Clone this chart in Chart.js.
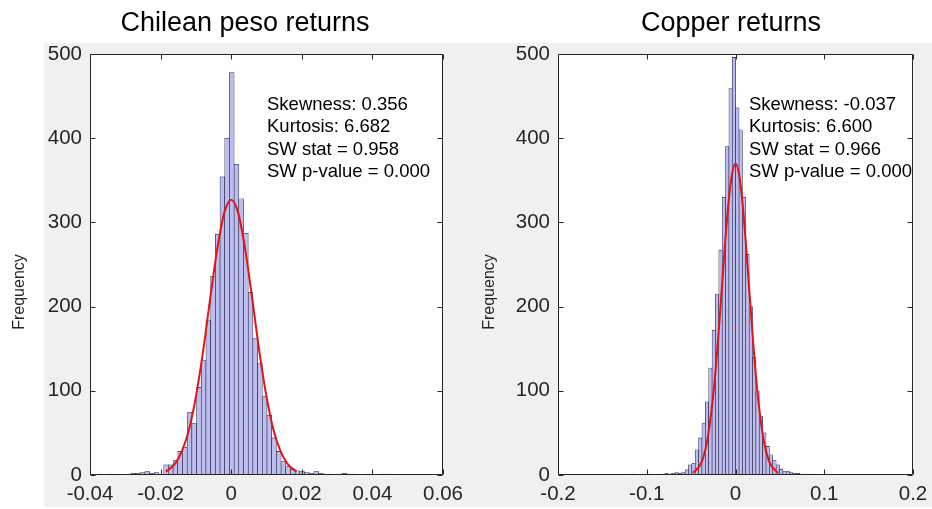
<!DOCTYPE html>
<html>
<head>
<meta charset="utf-8">
<script src="https://cdn.jsdelivr.net/npm/chart.js@4.4.0/dist/chart.umd.min.js"></script>
<style>
  body { margin: 0; background: #fff; }
  #wrap { position: relative; width: 932px; height: 509px; overflow: hidden; }
  #panel-bg { position: absolute; left: 44px; top: 43px; width: 888px; height: 464px; background: #f0f0f0; }
  canvas { position: absolute; top: 0; }
  #peso-chart { left: 0; }
  #copper-chart { left: 466px; }
</style>
</head>
<body>
<div id="wrap">
  <div id="panel-bg"></div>
  <canvas id="peso-chart" width="466" height="509"></canvas>
  <canvas id="copper-chart" width="466" height="509"></canvas>
</div>
<script>
// Chilean peso returns: histogram bins (first edge, width) and counts
const pesoBinStart = -0.03907;
const pesoBinWidth = 0.00133;
const pesoCounts = [0, 1, 0, 1, 0, 0, 0, 1, 2, 2, 3, 4, 2, 3, 1, 12, 12, 17, 28, 33,
  74, 61, 104, 136, 184, 236, 286, 354, 400,
  478, 369, 328, 287, 217, 162, 133, 93, 71, 44, 28, 16, 10, 7, 5, 4, 3, 2, 4, 2, 1,
  1, 0, 1, 2, 1, 1, 0, 0, 1, 0, 0, 1, 0, 1];
// fitted normal curve
const pesoFitX = [-0.0185, -0.016, -0.014, -0.012, -0.010, -0.008, -0.006, -0.004, -0.002, 0,
  0.002, 0.004, 0.006, 0.008, 0.010, 0.012, 0.014, 0.016, 0.0185];
const pesoFitY = [4, 13, 28, 53, 93, 146, 208, 267, 311, 327, 311, 267, 208, 146, 93, 53, 28, 13, 4];
const pesoTickValues = [-0.04, -0.02, 0, 0.02, 0.04, 0.06];
const pesoTickLabels = ['-0.04', '-0.02', '0', '0.02', '0.04', '0.06'];
const pesoStats = ['Skewness: 0.356', 'Kurtosis: 6.682', 'SW stat = 0.958', 'SW p-value = 0.000'];

// Copper returns
const copperBinStart = -0.1176;
const copperBinWidth = 0.0038;
const copperCounts = [1, 0, 0, 1, 0, 1, 0, 0, 1, 1, 2, 1, 2, 3, 2, 3, 6, 12, 14, 30,
  44, 61, 87, 127, 172, 215, 267, 330, 390, 459, 496,
  436, 410, 330, 262, 200, 140, 100, 70, 50, 34, 24, 17, 12, 7, 4, 4, 3, 2, 2, 1,
  1, 0, 1, 1, 0, 0, 1, 0, 1, 0];
const copperFitX = [-0.048, -0.04, -0.036, -0.032, -0.028, -0.024, -0.02, -0.016, -0.012, -0.008, -0.004, 0,
  0.004, 0.008, 0.012, 0.016, 0.02, 0.024, 0.028, 0.032, 0.036, 0.04, 0.048];
const copperFitY = [2.5, 11.6, 22, 40, 68, 106, 156, 213, 271, 322, 357, 370,
  357, 322, 271, 213, 156, 106, 68, 40, 22, 11.6, 2.5];
const copperTickValues = [-0.2, -0.1, 0, 0.1, 0.2];
const copperTickLabels = ['-0.2', '-0.1', '0', '0.1', '0.2'];
const copperStats = ['Skewness: -0.037', 'Kurtosis: 6.600', 'SW stat = 0.966', 'SW p-value = 0.000'];

const freqTickValues = [0, 100, 200, 300, 400, 500];
const freqTickLabels = ['0', '100', '200', '300', '400', '500'];

const FONT = '"Liberation Sans", Arial, sans-serif';
Chart.defaults.font.family = FONT;

// white axes, dark box, MATLAB-style inward ticks, titles and text
const matlabAxes = {
  id: 'matlabAxes',
  beforeDraw(chart) {
    const a = chart.chartArea, ctx = chart.ctx;
    ctx.save();
    ctx.fillStyle = '#fff';
    ctx.fillRect(a.left, a.top, a.right - a.left, a.bottom - a.top);
    ctx.restore();
  },
  afterDraw(chart, args, opts) {
    const { ctx, chartArea: a, scales } = chart;
    ctx.save();
    ctx.strokeStyle = '#262626';
    ctx.lineWidth = 1;
    const l = Math.round(a.left) + 0.5, r = Math.round(a.right) - 0.5;
    const t = Math.round(a.top) + 0.5, b = Math.round(a.bottom) - 0.5;
    ctx.beginPath();
    ctx.rect(l, t, r - l, b - t);
    const len = 5;
    scales.x.ticks.forEach(tk => {
      const px = Math.round(scales.x.getPixelForValue(tk.value)) + 0.5;
      ctx.moveTo(px, t); ctx.lineTo(px, t + len);
      ctx.moveTo(px, b); ctx.lineTo(px, b - len);
    });
    scales.y.ticks.forEach(tk => {
      const py = Math.round(scales.y.getPixelForValue(tk.value)) + 0.5;
      ctx.moveTo(l, py); ctx.lineTo(l + len, py);
      ctx.moveTo(r, py); ctx.lineTo(r - len, py);
    });
    ctx.stroke();

    ctx.fillStyle = '#000';
    ctx.font = '27px ' + FONT;
    ctx.textAlign = 'center';
    ctx.textBaseline = 'alphabetic';
    ctx.fillText(opts.title, opts.titleX, 31);

    ctx.font = '18.5px ' + FONT;
    ctx.textAlign = 'left';
    opts.stats.forEach((s, i) => ctx.fillText(s, opts.statsX, 110 + i * 22.4));

    ctx.fillStyle = '#262626';
    ctx.font = '16px ' + FONT;
    ctx.translate(opts.freqX, 292);
    ctx.rotate(-Math.PI / 2);
    ctx.textAlign = 'center';
    ctx.textBaseline = 'middle';
    ctx.fillText('Frequency', 0, 0);
    ctx.restore();
  }
};

function makeHist(id, p) {
  const bars = p.counts.map((c, i) => ({ x: p.binStart + (i + 0.5) * p.binWidth, y: c }));
  const fit = p.fitX.map((x, i) => ({ x: x, y: p.fitY[i] }));
  new Chart(document.getElementById(id), {
    type: 'bar',
    data: {
      datasets: [{
        type: 'line',
        data: fit,
        borderColor: 'rgb(232,18,18)',
        borderWidth: 2,
        pointRadius: 0,
        fill: false,
        cubicInterpolationMode: 'monotone',
        order: 0
      }, {
        type: 'bar',
        data: bars,
        backgroundColor: '#bcbef0',
        borderColor: '#1c1c38',
        borderWidth: 0.6,
        borderSkipped: false,
        barPercentage: 1,
        categoryPercentage: 1,
        order: 1
      }]
    },
    options: {
      responsive: false,
      animation: false,
      events: [],
      layout: { padding: { top: 54, right: p.padRight, left: 0, bottom: 0 } },
      plugins: {
        legend: { display: false },
        tooltip: { enabled: false },
        matlabAxes: { title: p.title, titleX: p.titleX, stats: p.stats, statsX: p.statsX, freqX: p.freqX }
      },
      scales: {
        x: {
          type: 'linear',
          min: p.xMin,
          max: p.xMax,
          offset: false,
          grid: { display: false, drawTicks: false, offset: false },
          border: { display: false },
          ticks: {
            autoSkip: false,
            maxRotation: 0,
            padding: 7,
            color: '#262626',
            font: { size: 20.5 },
            callback: (v, i) => p.tickLabels[i]
          },
          afterBuildTicks: s => { s.ticks = p.tickValues.map(v => ({ value: v })); },
          afterFit: s => { s.height = 34; s.paddingLeft = 0; s.paddingRight = 0; }
        },
        y: {
          type: 'linear',
          min: 0,
          max: 500,
          grid: { display: false, drawTicks: false },
          border: { display: false },
          ticks: {
            padding: 8,
            color: '#262626',
            font: { size: 20.5 },
            callback: (v, i) => freqTickLabels[i]
          },
          afterBuildTicks: s => { s.ticks = freqTickValues.map(v => ({ value: v })); },
          afterFit: s => { s.width = p.yWidth; s.paddingTop = 0; s.paddingBottom = 0; }
        }
      }
    },
    plugins: [matlabAxes]
  });
}

makeHist('peso-chart', {
  counts: pesoCounts, binStart: pesoBinStart, binWidth: pesoBinWidth,
  fitX: pesoFitX, fitY: pesoFitY,
  tickValues: pesoTickValues, tickLabels: pesoTickLabels,
  xMin: -0.04, xMax: 0.06,
  title: 'Chilean peso returns', titleX: 245, stats: pesoStats, statsX: 267, freqX: 20,
  yWidth: 90, padRight: 23
});

makeHist('copper-chart', {
  counts: copperCounts, binStart: copperBinStart, binWidth: copperBinWidth,
  fitX: copperFitX, fitY: copperFitY,
  tickValues: copperTickValues, tickLabels: copperTickLabels,
  xMin: -0.2, xMax: 0.2,
  title: 'Copper returns', titleX: 265, stats: copperStats, statsX: 283, freqX: 24,
  yWidth: 92, padRight: 19
});
</script>
</body>
</html>
